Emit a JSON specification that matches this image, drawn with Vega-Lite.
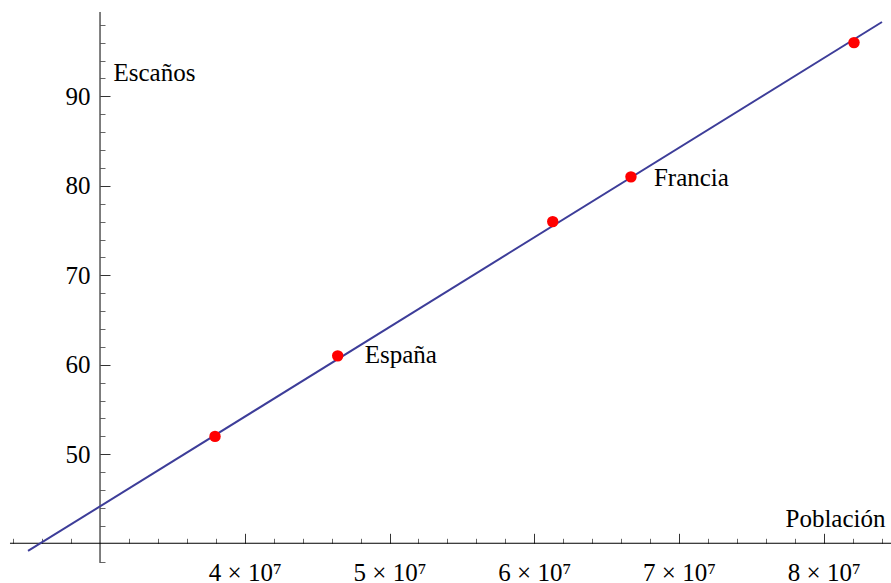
{
  "$schema": "https://vega.github.io/schema/vega-lite/v6.json",
  "width": 891,
  "height": 583,
  "padding": 0,
  "autosize": {"type": "none"},
  "background": "white",
  "config": {"view": {"stroke": null}, "font": "Liberation Serif"},
  "datasets": {
    "paises": [
      {"poblacion": 37945000, "escanos": 52, "nombre": ""},
      {"poblacion": 46420000, "escanos": 61, "nombre": "España"},
      {"poblacion": 61275000, "escanos": 76, "nombre": ""},
      {"poblacion": 66680000, "escanos": 81, "nombre": "Francia"},
      {"poblacion": 82090000, "escanos": 96, "nombre": ""}
    ],
    "ajuste": [
      {"poblacion": 25026000, "escanos": 39.2},
      {"poblacion": 84024000, "escanos": 98.3}
    ],
    "ejes": [
      {"x": 23780000, "x2": 84646000, "y": 40.06, "y2": 40.06},
      {"x": 30000000, "x2": 30000000, "y": 37.86, "y2": 99.42}
    ]
  },
  "layer": [
    {
      "data": {"name": "ejes"},
      "mark": {"type": "rule", "color": "black", "strokeWidth": 1},
      "encoding": {
        "x": {
          "field": "x", "type": "quantitative",
          "scale": {"domain": [23090000, 84646000], "nice": false, "zero": false},
          "axis": {
            "orient": "bottom", "offset": -39.7, "domain": false, "grid": false,
            "values": [40000000, 50000000, 60000000, 70000000, 80000000],
            "tickSize": -10, "tickColor": "#333", "tickWidth": 1,
            "labelPadding": 27, "labelFontSize": 25, "labelFont": "Liberation Serif",
            "labelColor": "black", "labelFlush": false, "labelOverlap": false,
            "labelExpr": "round(datum.value/1e7) + ' × 10⁷'",
            "title": "Población", "titleFont": "Liberation Serif", "titleFontSize": 25,
            "titleFontWeight": "normal", "titleColor": "black", "titleAlign": "left",
            "titleBaseline": "alphabetic", "titleX": 785, "titleY": -16.6, "titleAnchor": null
          }
        },
        "x2": {"field": "x2"},
        "y": {
          "field": "y", "type": "quantitative",
          "scale": {"domain": [35.62, 100.76], "nice": false, "zero": false},
          "axis": {
            "orient": "left", "offset": -100, "domain": false, "grid": false,
            "values": [50, 60, 70, 80, 90],
            "tickSize": -10, "tickColor": "#333", "tickWidth": 1,
            "labelPadding": 20, "labelFontSize": 25, "labelFont": "Liberation Serif",
            "labelColor": "black", "labelFlush": false, "labelOverlap": false, "labelDy": 1,
            "title": "Escaños", "titleFont": "Liberation Serif", "titleFontSize": 25,
            "titleFontWeight": "normal", "titleColor": "black", "titleAngle": 0,
            "titleAlign": "left", "titleBaseline": "alphabetic", "titleX": 13, "titleY": 80, "titleAnchor": null
          }
        },
        "y2": {"field": "y2"}
      }
    },
    {
      "data": {"name": "ajuste"},
      "mark": {"type": "line", "color": "#3D3D99", "strokeWidth": 2},
      "encoding": {
        "x": {
          "field": "poblacion", "type": "quantitative",
          "scale": {"domain": [23090000, 84646000], "nice": false, "zero": false},
          "axis": {
            "orient": "bottom", "offset": -39.7, "domain": false, "grid": false, "labels": false, "title": null,
            "values": [24000000, 26000000, 28000000, 32000000, 34000000, 36000000, 38000000, 42000000, 44000000, 46000000, 48000000, 52000000, 54000000, 56000000, 58000000, 62000000, 64000000, 66000000, 68000000, 72000000, 74000000, 76000000, 78000000, 82000000, 84000000],
            "tickSize": -5, "tickColor": "#666", "tickWidth": 1
          }
        },
        "y": {
          "field": "escanos", "type": "quantitative",
          "scale": {"domain": [35.62, 100.76], "nice": false, "zero": false},
          "axis": {
            "orient": "left", "offset": -100, "domain": false, "grid": false, "labels": false, "title": null,
            "values": [38, 42, 44, 46, 48, 52, 54, 56, 58, 62, 64, 66, 68, 72, 74, 76, 78, 82, 84, 86, 88, 92, 94, 96, 98],
            "tickSize": -5, "tickColor": "#666", "tickWidth": 1
          }
        }
      }
    },
    {
      "data": {"name": "paises"},
      "mark": {"type": "circle", "color": "#FF0000", "size": 130, "opacity": 1},
      "encoding": {
        "x": {"field": "poblacion", "type": "quantitative", "scale": {"domain": [23090000, 84646000], "nice": false, "zero": false}, "axis": null},
        "y": {"field": "escanos", "type": "quantitative", "scale": {"domain": [35.62, 100.76], "nice": false, "zero": false}, "axis": null}
      }
    },
    {
      "data": {"name": "paises"},
      "transform": [{"filter": "datum.nombre == 'España'"}],
      "mark": {"type": "text", "align": "left", "baseline": "alphabetic", "dx": 27, "dy": 7.5, "fontSize": 25, "font": "Liberation Serif", "color": "black"},
      "encoding": {
        "x": {"field": "poblacion", "type": "quantitative", "scale": {"domain": [23090000, 84646000], "nice": false, "zero": false}, "axis": null},
        "y": {"field": "escanos", "type": "quantitative", "scale": {"domain": [35.62, 100.76], "nice": false, "zero": false}, "axis": null},
        "text": {"field": "nombre"}
      }
    },
    {
      "data": {"name": "paises"},
      "transform": [{"filter": "datum.nombre == 'Francia'"}],
      "mark": {"type": "text", "align": "left", "baseline": "alphabetic", "dx": 23, "dy": 8.7, "fontSize": 25, "font": "Liberation Serif", "color": "black"},
      "encoding": {
        "x": {"field": "poblacion", "type": "quantitative", "scale": {"domain": [23090000, 84646000], "nice": false, "zero": false}, "axis": null},
        "y": {"field": "escanos", "type": "quantitative", "scale": {"domain": [35.62, 100.76], "nice": false, "zero": false}, "axis": null},
        "text": {"field": "nombre"}
      }
    }
  ],
  "resolve": {"axis": {"x": "independent", "y": "independent"}}
}
